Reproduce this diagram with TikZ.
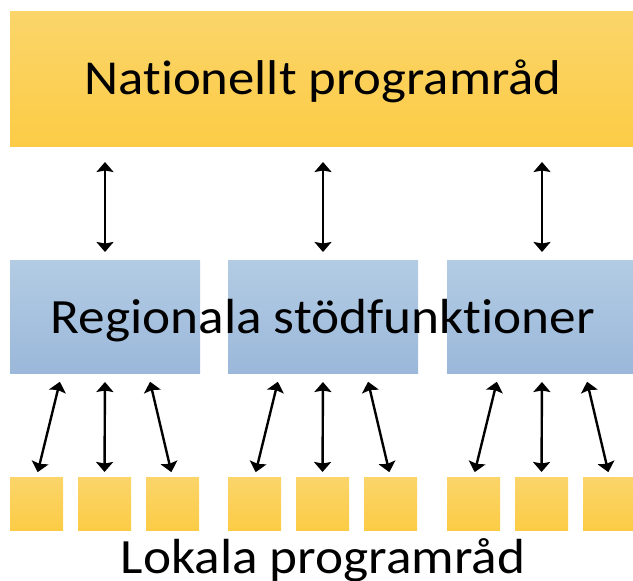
\documentclass[tikz,border=0pt]{standalone}
\usepackage{fontspec}
\setmainfont{Carlito}[Ligatures=NoCommon, FakeStretch=1.08]
\usetikzlibrary{arrows.meta}
\definecolor{ylwTop}{HTML}{FBD56A}
\definecolor{ylwBot}{HTML}{FCCC46}
\definecolor{bluTop}{HTML}{B3CCE4}
\definecolor{bluBot}{HTML}{9BB8DA}
\tikzset{
  yellowbar/.style={anchor=north west, inner sep=0pt, outer sep=0pt,
    top color=ylwTop, bottom color=ylwBot, draw=none},
  regbox/.style={anchor=north west, inner sep=0pt, outer sep=0pt,
    minimum width=190bp, minimum height=113bp,
    top color=bluTop, bottom color=bluBot, draw=none},
  localbox/.style={anchor=north west, inner sep=0pt, outer sep=0pt,
    minimum width=53bp, minimum height=53bp,
    top color=ylwTop, bottom color=ylwBot, draw=none},
  biarrow/.style={line width=2.4bp, black,
    {Stealth[length=10bp,width=17bp,inset=1.5bp]}-{Stealth[length=10bp,width=17bp,inset=1.5bp]}},
  label/.style={anchor=base, inner sep=0pt, text=black}
}
\begin{document}
\begin{tikzpicture}[x=1bp, y=-1bp]
  \useasboundingbox (0,0) rectangle (633,581);
  \clip (0,0) rectangle (633,581);
  % national council bar
  \node[yellowbar, minimum width=630bp, minimum height=134bp] (nat) at (10,12) {};
  \node[label, font=\fontsize{49}{50}\selectfont] (natlbl) at (323,95) {Nationellt programråd};
  % regional support boxes and the local councils under each
  \foreach \i/\x in {1/10, 2/228, 3/447} {
    \node[regbox] (reg\i) at (\x,260) {};
    \foreach \j/\dx in {1/0, 2/68, 3/136} {
      \node[localbox] (loc\i\j) at (\x+\dx,477) {};
    }
  }
  \node[label, font=\fontsize{49.5}{51}\selectfont] (reglbl) at (323,333) {Regionala stödfunktioner};
  \node[label, font=\fontsize{49.5}{51}\selectfont] (loclbl) at (323,573) {Lokala programråd};
  % links national <-> regional
  \foreach \i in {1,2,3} {
    \draw[biarrow, shorten <=16bp, shorten >=8bp] (reg\i.north |- nat.south) -- (reg\i.north);
  }
  % links regional <-> local
  \foreach \i in {1,2,3} {
    \draw[biarrow, shorten <=9bp, shorten >=5bp] ([xshift=-43bp]reg\i.south) -- (loc\i1.north);
    \draw[biarrow, shorten <=9bp, shorten >=5bp] (reg\i.south) -- (loc\i2.north);
    \draw[biarrow, shorten <=9bp, shorten >=5bp] ([xshift=43bp]reg\i.south) -- (loc\i3.north);
  }
\end{tikzpicture}
\end{document}
